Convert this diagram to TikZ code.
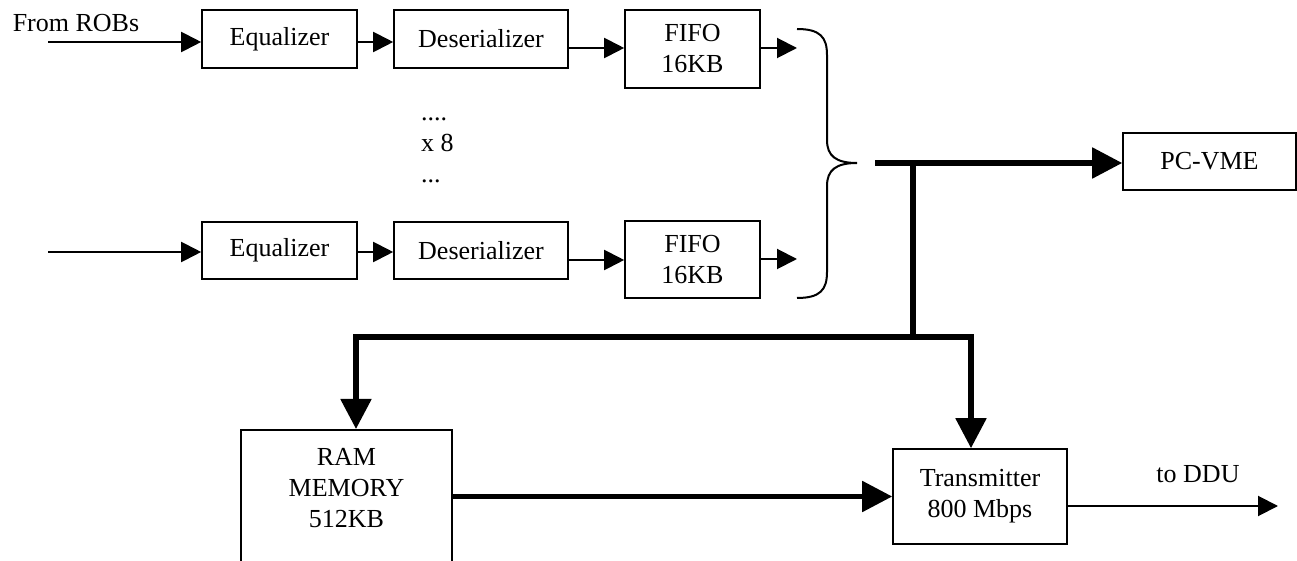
\documentclass[tikz,border=0pt]{standalone}
\usepackage{fontspec}
\setmainfont{Liberation Serif}
\usetikzlibrary{positioning, arrows.meta}

\begin{document}
\begin{tikzpicture}[x=0.5pt, y=-0.5pt,
    font=\fontsize{13}{15.5}\selectfont,
    blk/.style={draw, line width=0.8pt, inner sep=0pt, align=center},
    sig/.style={line width=1pt, -{Triangle[length=10pt,width=10pt]}},
    bus/.style={line width=2.6pt, line join=miter},
    busarr/.style={bus, -{Triangle[length=15pt,width=15pt]}}]
    \useasboundingbox (0,0) rectangle (1297,561);
    \clip (0,0) rectangle (1297,561);

    \node[blk, minimum width=77.5pt, minimum height=29pt] (eqa) at (279.5,39) {Equalizer};
    \node[blk, minimum width=87pt, minimum height=29pt] (desa) at (481,39) {Deserializer};
    \node[blk, minimum width=67.5pt, minimum height=39pt] (fifoa) at (692.5,49) {FIFO\\16KB};
    \node[blk, minimum width=77.5pt, minimum height=28.5pt] (eqb) at (279.5,250.5) {Equalizer};
    \node[blk, minimum width=87pt, minimum height=28.5pt] (desb) at (481,250.5) {Deserializer};
    \node[blk, minimum width=67.5pt, minimum height=38.5pt] (fifob) at (692.5,259.5) {FIFO\\16KB};
    \node[blk, minimum width=86.5pt, minimum height=28.5pt] (pcvme) at (1209.5,161.5) {PC-VME};
    \node[blk, minimum width=105.5pt, minimum height=100pt, anchor=north] (ram) at (346.5,429) {};
    \node[align=center] (ramtxt) at (346.5,488) {RAM\\MEMORY\\512KB};
    \node[blk, minimum width=87pt, minimum height=47.5pt] (trans) at (980,496.5) {Transmitter\\800 Mbps};

    \node[anchor=base] (robs) at (76,32) {From ROBs};
    \node[anchor=base west] (dotsa) at (414,121) {....};
    \node[anchor=base west] (times) at (414,152) {x 8};
    \node[anchor=base west] (dotsb) at (414,183) {...};
    \node (ddulbl) at (1198,474) {to DDU};

    \coordinate (ina) at (48,42);
    \coordinate (inb) at (48,252);
    \coordinate (outa) at (797,48);
    \coordinate (outb) at (797,259);
    \coordinate (bs) at (875,163);
    \coordinate (tap) at (913,337);
    \coordinate (bl) at (356,337);
    \coordinate (br) at (971,337);
    \coordinate (ddu) at (1278,506);

    \draw[sig] (ina) -- (ina -| eqa.west);
    \draw[sig] (eqa.east |- ina) -- (ina -| desa.west);
    \draw[sig] (desa.east |- outa) -- (outa -| fifoa.west);
    \draw[sig] (fifoa.east |- outa) -- (outa);
    \draw[sig] (inb) -- (inb -| eqb.west);
    \draw[sig] (eqb.east |- inb) -- (inb -| desb.west);
    \draw[sig] (desb.east |- 0,260) -- (fifob.west |- 0,260);
    \draw[sig] (fifob.east |- outb) -- (outb);

    \draw[line width=1pt] (797,29) .. controls (820,29) and (827,37) .. (827,55)
        -- (827,140) .. controls (827,156) and (836,163) .. (857,163)
        .. controls (836,163) and (827,170) .. (827,186)
        -- (827,272) .. controls (827,290) and (820,298) .. (797,298);

    \draw[busarr] (bs) -- (bs -| pcvme.west);
    \draw[bus] (bs -| tap) -- (tap);
    \draw[busarr] (tap) -- (bl) -- (bl |- ram.north);
    \draw[busarr] (tap) -- (br) -- (br |- trans.north);
    \draw[busarr] (ram.east |- trans.west) -- (trans.west);
    \draw[sig] (trans.east |- ddu) -- (ddu);
\end{tikzpicture}
\end{document}
